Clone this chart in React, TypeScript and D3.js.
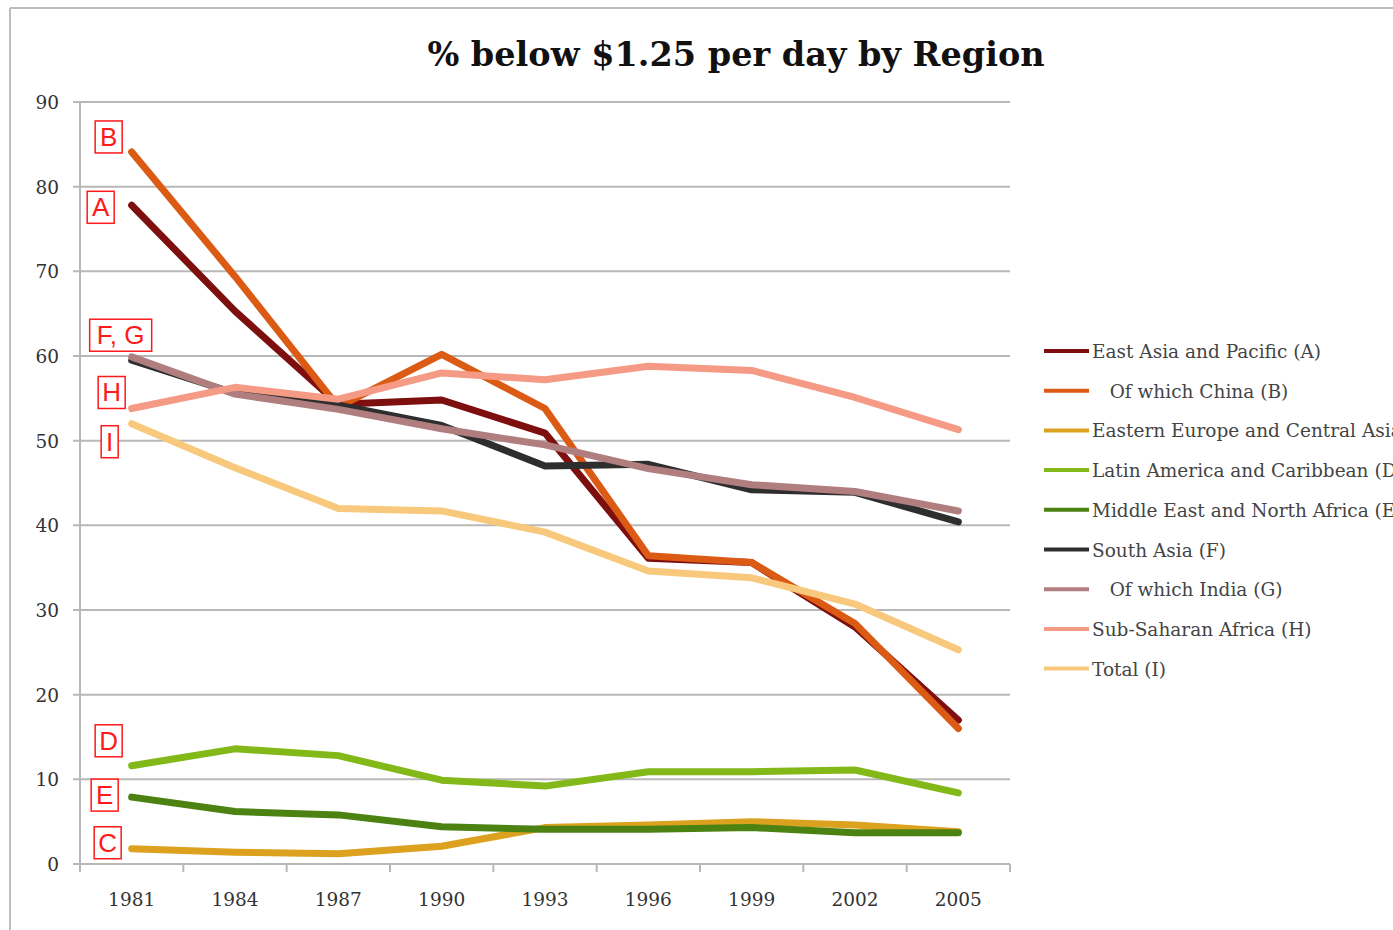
import React from "react";
import * as d3 from "d3";

const years = ["1981", "1984", "1987", "1990", "1993", "1996", "1999", "2002", "2005"];
const yTicks = [0, 10, 20, 30, 40, 50, 60, 70, 80, 90];

const eastAsia = [77.8, 65.3, 54.3, 54.8, 50.9, 36.1, 35.6, 28.0, 17.0];
const china = [84.1, 69.4, 54.0, 60.2, 53.8, 36.4, 35.6, 28.4, 16.0];
const easternEurope = [1.8, 1.4, 1.2, 2.1, 4.3, 4.6, 5.0, 4.6, 3.8];
const latinAmerica = [11.6, 13.6, 12.8, 9.9, 9.2, 10.9, 10.9, 11.1, 8.4];
const middleEast = [7.9, 6.2, 5.8, 4.4, 4.1, 4.1, 4.3, 3.7, 3.7];
const southAsia = [59.5, 55.6, 54.2, 51.8, 47.0, 47.2, 44.2, 43.9, 40.4];
const india = [59.9, 55.5, 53.7, 51.4, 49.5, 46.7, 44.8, 44.0, 41.7];
const subSaharan = [53.8, 56.3, 54.9, 58.0, 57.2, 58.8, 58.3, 55.1, 51.3];
const total = [52.0, 46.8, 42.0, 41.7, 39.2, 34.6, 33.8, 30.7, 25.3];

const seriesNames = [
  "East Asia and Pacific (A)",
  "   Of which China (B)",
  "Eastern Europe and Central Asia (C)",
  "Latin America and Caribbean (D)",
  "Middle East and North Africa (E)",
  "South Asia (F)",
  "   Of which India (G)",
  "Sub-Saharan Africa (H)",
  "Total (I)",
];
const seriesValues = [eastAsia, china, easternEurope, latinAmerica, middleEast, southAsia, india, subSaharan, total];
const seriesColors = ["#7d0f0f", "#db5a14", "#dca11e", "#82b818", "#4b8212", "#2e2e2e", "#b07e7e", "#f59a84", "#f8c97c"];

// annotation letters: text, series index, offset from first point (dx, dy)
const annotationTexts = ["B", "A", "F, G", "H", "I", "D", "E", "C"];
const annotationSeries = [1, 0, 5, 7, 8, 3, 4, 2];
const annotationOffsets: [number, number][] = [
  [-23, -15], [-31, 2], [-11, -25], [-20, -16], [-22, 18], [-23, -25], [-27, -2], [-24, -6],
];

const W = 1393;
const H = 930;
const plot = { left: 80, right: 1010, top: 102, bottom: 864 };

export default function App() {
  const x = d3.scalePoint<string>().domain(years).range([plot.left, plot.right]).padding(0.5);
  const xb = d3.scaleBand<string>().domain(years).range([plot.left, plot.right]);
  const y = d3.scaleLinear().domain([0, 90]).range([plot.bottom, plot.top]);
  const line = d3
    .line<number>()
    .x((_, i) => x(years[i]) as number)
    .y((d) => y(d));

  const serif = "'DejaVu Serif', 'Liberation Serif', serif";
  const boundaries = years.map((yr) => xb(yr) as number).concat([plot.right]);

  return (
    <svg
      width={W}
      height={H}
      style={{ position: "absolute", left: 0, top: 0, background: "#fff" }}
    >
      <rect x={0} y={0} width={W} height={H} fill="#fff" />
      {/* outer frame */}
      <line x1={10} y1={8} x2={W} y2={8} stroke="#bdbdbd" strokeWidth={2} />
      <line x1={10} y1={8} x2={10} y2={H} stroke="#bdbdbd" strokeWidth={2} />

      <text
        x={736}
        y={66}
        textAnchor="middle"
        fontFamily={serif}
        fontWeight="bold"
        fontSize={33.5}
        fill="#111"
      >
        % below $1.25 per day by Region
      </text>

      {/* gridlines */}
      {yTicks.map((t) => (
        <g key={t}>
          <line
            x1={plot.left - 7}
            x2={plot.right}
            y1={y(t)}
            y2={y(t)}
            stroke="#b8b8b8"
            strokeWidth={2}
          />
          <text
            x={59}
            y={y(t) + 7}
            textAnchor="end"
            fontFamily={serif}
            fontSize={18.5}
            fill="#333"
          >
            {t}
          </text>
        </g>
      ))}
      <line x1={plot.left} x2={plot.left} y1={plot.top} y2={plot.bottom} stroke="#b8b8b8" strokeWidth={2} />
      {boundaries.map((bx, i) => (
        <line key={i} x1={bx} x2={bx} y1={plot.bottom} y2={plot.bottom + 8} stroke="#b8b8b8" strokeWidth={2} />
      ))}
      {years.map((yr) => (
        <text
          key={yr}
          x={x(yr) as number}
          y={906}
          textAnchor="middle"
          fontFamily={serif}
          fontSize={18.5}
          fill="#333"
        >
          {yr}
        </text>
      ))}

      {/* series lines */}
      {seriesValues.map((vals, i) => (
        <path
          key={i}
          d={line(vals) || ""}
          fill="none"
          stroke={seriesColors[i]}
          strokeWidth={7}
          strokeLinejoin="round"
          strokeLinecap="round"
        />
      ))}

      {/* annotation letters */}
      {annotationTexts.map((t, i) => {
        const s = annotationSeries[i];
        const cx = (x(years[0]) as number) + annotationOffsets[i][0];
        const cy = y(seriesValues[s][0]) + annotationOffsets[i][1];
        const w = t.length > 1 ? 62 : t === "I" ? 17 : 27;
        const h = 32;
        return (
          <g key={t}>
            <rect
              x={cx - w / 2}
              y={cy - h / 2}
              width={w}
              height={h}
              fill="#fff"
              stroke="#ff1a1a"
              strokeWidth={1.5}
            />
            <text
              x={cx}
              y={cy + 9}
              textAnchor="middle"
              fontFamily="'Liberation Sans', Arial, sans-serif"
              fontSize={26}
              fill="#ff1a1a"
            >
              {t}
            </text>
          </g>
        );
      })}

      {/* legend */}
      {seriesNames.map((name, i) => {
        const ly = 351 + i * 39.7;
        return (
          <g key={name}>
            <line x1={1044} x2={1089} y1={ly} y2={ly} stroke={seriesColors[i]} strokeWidth={4} />
            <text
              x={1092}
              y={ly + 7}
              fontFamily={serif}
              fontSize={18.5}
              fill="#444"
              style={{ whiteSpace: "pre" }}
            >
              {name}
            </text>
          </g>
        );
      })}
    </svg>
  );
}
